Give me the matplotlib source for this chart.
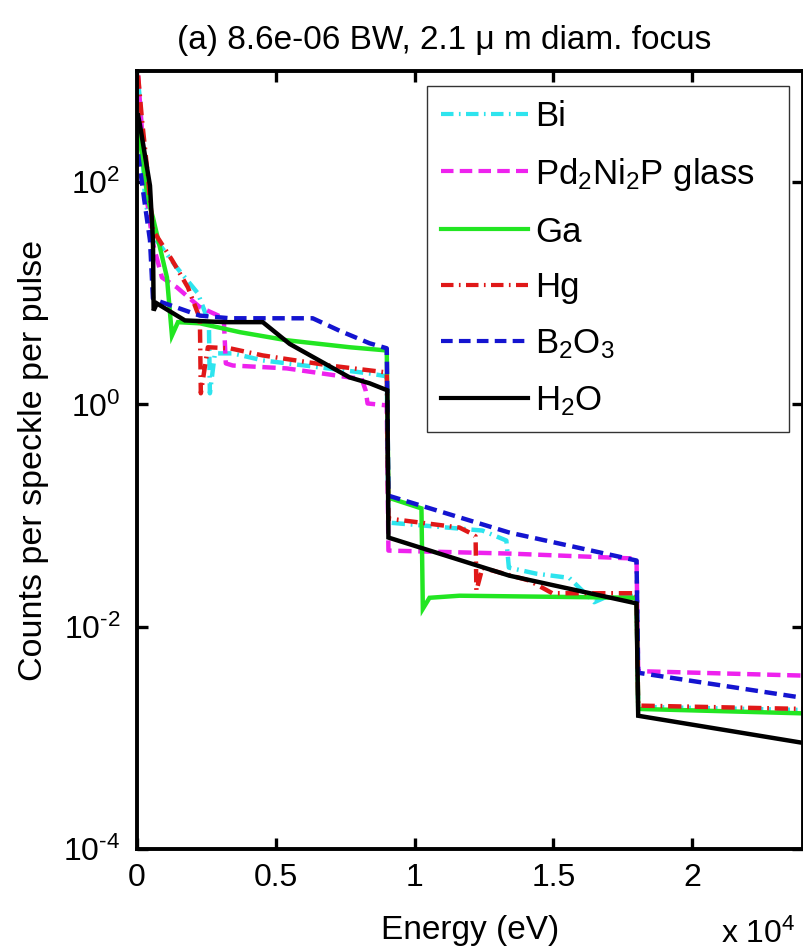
import numpy as np
import matplotlib
matplotlib.use("Agg")
import matplotlib.pyplot as plt
from matplotlib.ticker import FixedLocator, NullLocator

plt.rcParams['font.family'] = ['Liberation Sans', 'DejaVu Sans']
plt.rcParams['mathtext.fontset'] = 'custom'
plt.rcParams['mathtext.rm'] = 'Liberation Sans'
plt.rcParams['mathtext.it'] = 'Liberation Sans'
plt.rcParams['mathtext.default'] = 'regular'

# ---- spectra: energy (eV) and counts per speckle per pulse ----
bi_E = [40, 108, 288, 575, 1439, 2194, 2518, 2590, 2626, 2806, 3453, 4532, 8381, 9000,
        9060, 12446, 13309, 13400, 14388, 15575, 16474, 16834, 18000, 18060, 24000]
bi_C = [794, 550, 69, 33, 17, 10, 6.1, 5.7, 1.26, 2.88, 2.88, 2.49, 1.90, 1.79,
        0.0865, 0.0733, 0.0596, 0.034, 0.030, 0.0275, 0.0166, 0.0182, 0.019, 0.0019, 0.00178]

pd_E = [40, 108, 360, 575, 899, 1439, 2266, 3057, 3130, 3200, 3453, 5396, 7662, 8093,
        8237, 8309, 9000, 9060, 13417, 18000, 18060, 24000]
pd_C = [912, 513, 69, 28, 13.9, 11.3, 7.5, 6.1, 5.7, 2.34, 2.24, 2.11, 1.75, 1.71,
        1.34, 1.02, 0.98, 0.0484, 0.0455, 0.041, 0.00398, 0.00363]

ga_E = [40, 396, 575, 1079, 1259, 1475, 2266, 3705, 5396, 7662, 9000, 9060, 10250,
        10300, 10540, 11620, 18000, 18060, 24000]
ga_C = [316, 69, 48, 13.9, 4.17, 5.5, 5.37, 4.47, 3.78, 3.27, 3.06, 0.145, 0.116,
        0.0145, 0.0182, 0.019, 0.0182, 0.00182, 0.00166]

hg_E = [40, 180, 360, 575, 1259, 1835, 2194, 2266, 2300, 2554, 3345, 4532, 6942, 9000,
        9060, 11620, 12050, 12200, 12230, 12446, 14137, 14964, 18000, 18060, 24000]
hg_C = [912, 363, 136, 37, 20, 11.3, 6.6, 5.7, 1.26, 3.27, 3.2, 2.76, 2.24, 1.94,
        0.094, 0.078, 0.0689, 0.065, 0.0211, 0.0339, 0.026, 0.020, 0.020, 0.00195, 0.00182]

b2o3_E = [40, 288, 468, 575, 719, 2266, 3345, 6331, 7302, 8381, 9000, 9060, 13417,
          18000, 18060, 24000]
b2o3_C = [178, 62, 30, 9.0, 8.6, 6.3, 5.96, 5.96, 4.6, 3.55, 3.2, 0.151, 0.0703,
          0.0394, 0.00385, 0.00229]

h2o_E = [40, 108, 468, 575, 600, 719, 1727, 3165, 4532, 5503, 7662, 8381, 9020, 9060,
         13417, 18000, 18060, 24000]
h2o_C = [398, 324, 93, 30, 7.0, 8.1, 5.7, 5.5, 5.5, 3.5, 1.75, 1.55, 1.34, 0.0634,
         0.0288, 0.0162, 0.00158, 0.00090]

labels = ['Bi', 'Pd$_2$Ni$_2$P glass   ', 'Ga', 'Hg', 'B$_2$O$_3$', 'H$_2$O']
colors = ['#2ee4ee', '#ee22ee', '#22e622', '#e01818', '#1414d0', '#000000']
dashdot = (0, (3.0, 1.3, 0.4, 1.3))
styles = [dashdot, (0, (3.0, 1.5)), '-', dashdot, (0, (2.8, 1.5)), '-']

x_ticks = [0, 5000, 10000, 15000, 20000]
x_tick_labels = ['0', '0.5', '1', '1.5', '2']
y_ticks = [1e-4, 1e-2, 1e0, 1e2]
y_tick_labels = ['$10^{\u2010 4}$', '$10^{\u2010 2}$', '$10^{0}$', '$10^{2}$']

fig = plt.figure(figsize=(8.04, 9.51), dpi=100)
ax = fig.add_axes([0.1704, 0.1073, 0.8284, 0.8180])

series = [(bi_E, bi_C), (pd_E, pd_C), (ga_E, ga_C), (hg_E, hg_C),
          (b2o3_E, b2o3_C), (h2o_E, h2o_C)]
for (E, C), lab, col, ls in zip(series, labels, colors, styles):
    ax.plot(E, C, color=col, linestyle=ls, linewidth=3.2, label=lab,
            solid_joinstyle='miter', dash_capstyle='butt')

ax.set_yscale('log')
ax.set_xlim(0, 24000)
ax.set_ylim(1e-4, 1e3)

ax.xaxis.set_major_locator(FixedLocator(x_ticks))
ax.set_xticklabels(x_tick_labels)
ax.yaxis.set_major_locator(FixedLocator(y_ticks))
ax.yaxis.set_minor_locator(NullLocator())
ax.set_yticklabels(y_tick_labels)

ax.tick_params(axis='both', which='major', direction='in', length=8, width=2.4,
               labelsize=23, top=True, right=True, pad=10)
ax.tick_params(axis='y', pad=12)
for s in ax.spines.values():
    s.set_linewidth(2.8)

ax.set_xlabel('Energy (eV)', fontsize=24, labelpad=16)
ax.set_ylabel('Counts per speckle per pulse', fontsize=24.5, labelpad=10)
fig.text(444 / 804, 1 - 40 / 951, '(a) 8.6e-06 BW, 2.1 μ m diam. focus',
         fontsize=24, ha='center', va='center')
fig.text(721 / 804, 1 - 934 / 951, 'x 10$^4$', fontsize=23, ha='left', va='center')

leg = ax.legend(loc='upper right', bbox_to_anchor=(0.979, 0.981), borderaxespad=0,
                fontsize=25, handlelength=2.5, handletextpad=0.2, labelspacing=0.66,
                borderpad=0.4, fancybox=False, framealpha=1, edgecolor='#333333')
leg.get_frame().set_linewidth(1.0)
for h in leg.get_lines():
    h.set_linewidth(3.0)

fig.savefig('out.png', dpi=100)
